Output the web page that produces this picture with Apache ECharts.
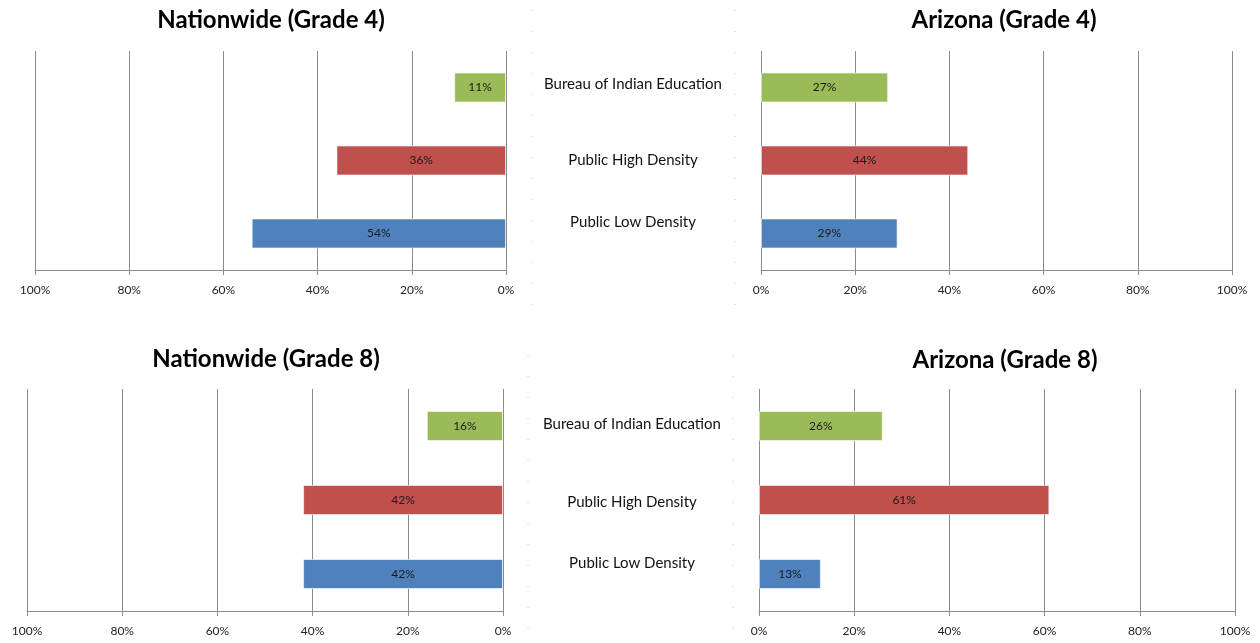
<!DOCTYPE html>
<html>
<head>
<meta charset="utf-8">
<script src="https://cdn.jsdelivr.net/npm/echarts@6/dist/echarts.min.js"></script>
<style>
  html, body { margin: 0; padding: 0; background: #fff; }
  #main { width: 1260px; height: 643px; }
</style>
</head>
<body>
<div id="main"></div>
<script>
// categories, top to bottom
var categories = ["Bureau of Indian Education", "Public High Density", "Public Low Density"];
var barColors = ["#9BBB59", "#C0504D", "#4F81BD"];
var tickValues = [0, 20, 40, 60, 80, 100];

// percent values per chart (same order as categories)
var nationG4 = [11, 36, 54];
var arizonaG4 = [27, 44, 29];
var nationG8 = [16, 42, 42];
var arizonaG8 = [26, 61, 13];

var titles = ["Nationwide (Grade 4)", "Arizona (Grade 4)", "Nationwide (Grade 8)", "Arizona (Grade 8)"];

var FONT = "Lato";
var gridColor = "#8c8c8c";

// grid boxes: [left, top, width, height]
var boxes = [
  [35, 51, 471, 219],
  [761, 51, 471, 219],
  [27, 389, 476, 222],
  [759, 389, 476, 222]
];
var datasets = [nationG4, arizonaG4, nationG8, arizonaG8];

var grids = [], xAxes = [], yAxes = [], series = [];

boxes.forEach(function (b, i) {
  var isLeft = (i % 2 === 0);
  grids.push({ left: b[0], top: b[1], width: b[2], height: b[3], containLabel: false });
  xAxes.push({
    gridIndex: i,
    type: "value",
    min: tickValues[0],
    max: tickValues[tickValues.length - 1],
    interval: 20,
    inverse: isLeft,
    axisLine: { show: true, lineStyle: { color: gridColor, width: 1 } },
    axisTick: { show: true, length: 5, lineStyle: { color: gridColor } },
    axisLabel: {
      formatter: "{value}%",
      fontFamily: FONT,
      fontSize: 12,
      color: "#222",
      margin: 14
    },
    splitLine: { show: true, lineStyle: { color: gridColor, width: 1 } }
  });
  yAxes.push({
    gridIndex: i,
    type: "category",
    inverse: true,
    data: categories,
    axisLine: { show: false },
    axisTick: { show: false },
    axisLabel: isLeft ? { show: false } : {
      show: true,
      align: "center",
      margin: i === 1 ? 128 : 127,
      fontFamily: FONT,
      fontSize: 15,
      color: "#111",
      formatter: function (v, idx) {
        if (idx === 0) return "{a|" + v + "}";
        if (idx === 2) return "{c|" + v + "}";
        return "{b|" + v + "}";
      },
      rich: {
        a: { fontFamily: FONT, fontSize: 15, color: "#111", padding: i === 1 ? [0, 0, 7, 0] : [0, 0, 3, 0] },
        b: { fontFamily: FONT, fontSize: 15, color: "#111", padding: i === 1 ? [0, 0, 0, 0] : [5, 0, 0, 0] },
        c: { fontFamily: FONT, fontSize: 15, color: "#111", padding: [0, 0, 22, 0] }
      }
    }
  });
  series.push({
    type: "bar",
    xAxisIndex: i,
    yAxisIndex: i,
    barWidth: 30,
    data: datasets[i].map(function (v, k) {
      return { value: v, itemStyle: { color: barColors[k] } };
    }),
    label: {
      show: true,
      position: "inside",
      formatter: "{c}%",
      fontFamily: FONT,
      fontSize: 12,
      color: "#1a1a1a"
    },
    itemStyle: { borderColor: "rgba(255,255,255,0.6)", borderWidth: 1 }
  });
});

// faint dotted separators around the middle label column
function dotted(x, y1, y2) {
  return {
    type: "line",
    shape: { x1: x, y1: y1, x2: x, y2: y2 },
    style: { stroke: "#c8c8c8", lineWidth: 1, lineDash: [1, 20] },
    silent: true
  };
}

var chart = echarts.init(document.getElementById("main"));
chart.setOption({
  animation: false,
  backgroundColor: "#fff",
  title: [
    { text: titles[0], left: 266, top: 3, textAlign: "center" },
    { text: titles[1], left: 999, top: 3, textAlign: "center" },
    { text: titles[2], left: 261, top: 342, textAlign: "center" },
    { text: titles[3], left: 1000, top: 343, textAlign: "center" }
  ].map(function (t) {
    t.textStyle = { fontFamily: FONT, fontWeight: "bold", fontSize: 24, color: "#000" };
    return t;
  }),
  grid: grids,
  xAxis: xAxes,
  yAxis: yAxes,
  series: series,
  graphic: [
    dotted(532, 10, 305),
    dotted(735, 10, 305),
    dotted(528, 355, 632),
    dotted(733, 355, 632)
  ]
});
</script>
</body>
</html>
